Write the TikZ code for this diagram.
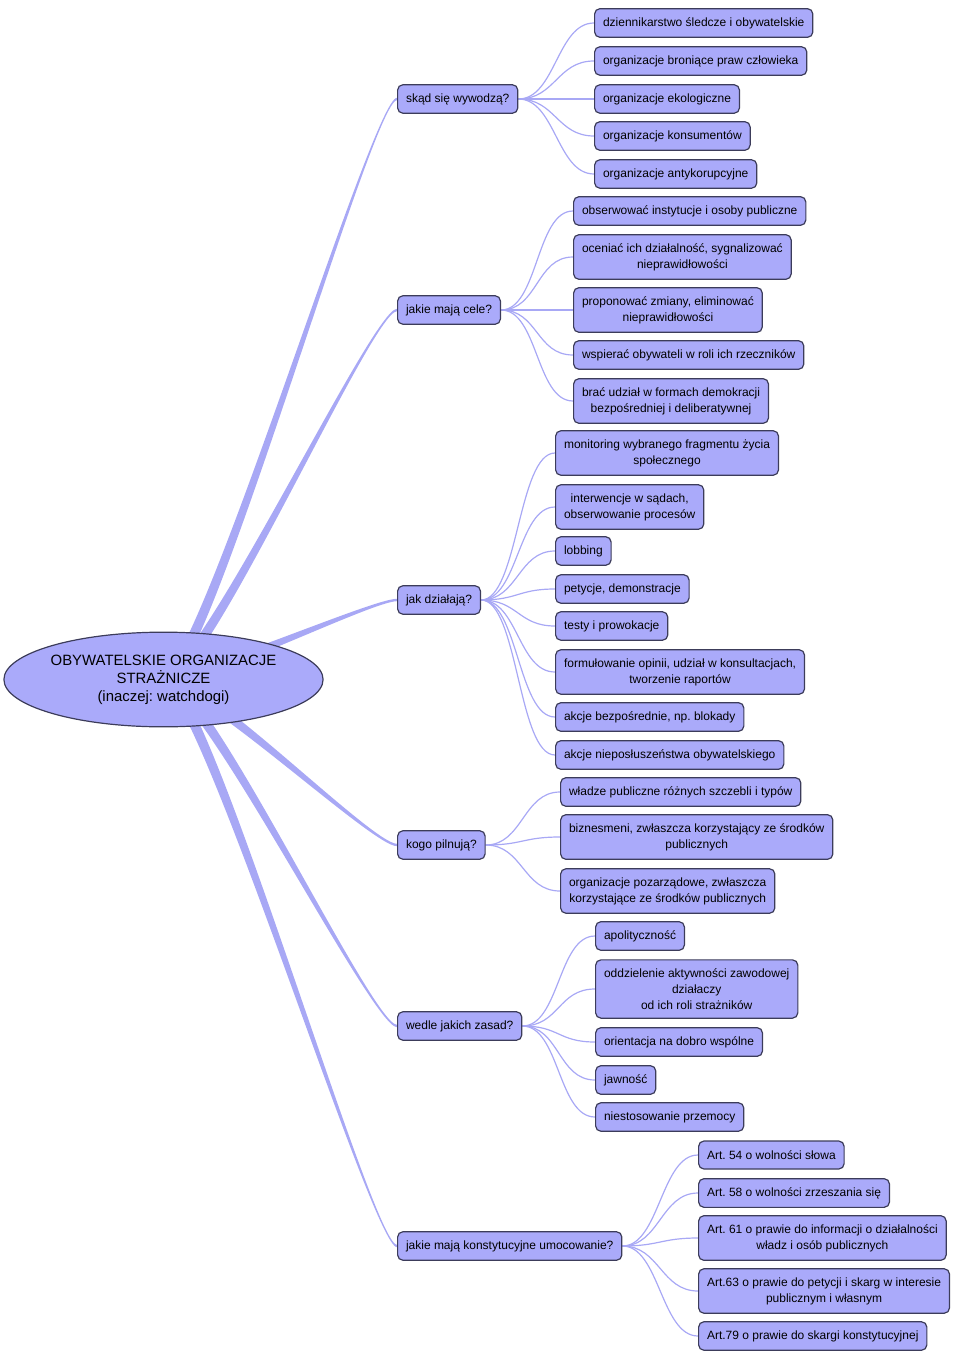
\documentclass[tikz,border=0pt]{standalone}
\usepackage{fontspec}
\setmainfont{Liberation Sans}
\frenchspacing
\usetikzlibrary{shapes.geometric,calc,backgrounds}
\definecolor{nodefill}{HTML}{AAAAFA}
\definecolor{nodeline}{HTML}{3C3C5A}
\definecolor{edgecol}{HTML}{A8A8F5}
\newcommand\mainedge[1]{%
  \path ($(root.center)!4pt!90:(#1.west)$) coordinate (mA)
        ($(root.center)!4pt!-90:(#1.west)$) coordinate (mB)
        ($(#1.west)+(0,-1.2)$) coordinate (mC)
        ($(#1.west)+(0,1.2)$) coordinate (mD);
  \fill[edgecol] (mA) .. controls +(40,0) and +(-25,0) .. (mC) -- (mD)
        .. controls +(-25,0) and +(40,0) .. (mB) -- cycle;}
\newcommand\leafedge[2]{\draw[leafline] (#1.east) .. controls +(37,0) and +(-37,0) .. (#2.west);}
\begin{document}
\begin{tikzpicture}[x=0.75pt,y=-0.75pt,
  box/.style={draw=nodeline, line width=0.9pt, fill=nodefill, rounded corners=4pt,
    anchor=west, align=center, font=\fontsize{9}{12}\selectfont,
    inner xsep=6.3pt, inner ysep=6.5pt, minimum height=21pt},
  leafline/.style={draw=edgecol, line width=0.9pt},
  rootnode/.style={ellipse, draw=nodeline, line width=0.9pt, fill=nodefill,
    minimum width=237pt, minimum height=71pt, align=center, inner sep=0pt,
    font=\fontsize{11.2}{13.5}\selectfont}]
\useasboundingbox (0,0) rectangle (960,1355);

\node[rootnode] (root) at (163.5,679.5) {OBYWATELSKIE ORGANIZACJE\\STRAŻNICZE\\(inaczej: watchdogi)};

% branches
\node[box] (b1) at (397,99) {skąd się wywodzą?};
\node[box] (b2) at (397,310) {jakie mają cele?};
\node[box] (b3) at (397,600) {jak działają?};
\node[box] (b4) at (397,845) {kogo pilnują?};
\node[box] (b5) at (397,1026) {wedle jakich zasad?};
\node[box] (b6) at (397,1246) {jakie mają konstytucyjne umocowanie?};

% group 1
\node[box] (l11) at (594,23) {dziennikarstwo śledcze i obywatelskie};
\node[box] (l12) at (594,61) {organizacje broniące praw człowieka};
\node[box] (l13) at (594,99) {organizacje ekologiczne};
\node[box] (l14) at (594,136) {organizacje konsumentów};
\node[box] (l15) at (594,174) {organizacje antykorupcyjne};

% group 2
\node[box] (l21) at (573,211) {obserwować instytucje i osoby publiczne};
\node[box] (l22) at (573,257) {oceniać ich działalność, sygnalizować\\nieprawidłowości};
\node[box] (l23) at (573,310) {proponować zmiany, eliminować\\nieprawidłowości};
\node[box] (l24) at (573,355) {wspierać obywateli w roli ich rzeczników};
\node[box] (l25) at (573,401) {brać udział w formach demokracji\\bezpośredniej i deliberatywnej};

% group 3
\node[box] (l31) at (555,453) {monitoring wybranego fragmentu życia\\społecznego};
\node[box] (l32) at (555,507) {interwencje w sądach,\\obserwowanie procesów};
\node[box] (l33) at (555,551) {lobbing};
\node[box] (l34) at (555,589) {petycje, demonstracje};
\node[box] (l35) at (555,626) {testy i prowokacje};
\node[box] (l36) at (555,672) {formułowanie opinii, udział w konsultacjach,\\tworzenie raportów};
\node[box] (l37) at (555,717) {akcje bezpośrednie, np. blokady};
\node[box] (l38) at (555,755) {akcje nieposłuszeństwa obywatelskiego};

% group 4
\node[box] (l41) at (560,792) {władze publiczne różnych szczebli i typów};
\node[box] (l42) at (560,837) {biznesmeni, zwłaszcza korzystający ze środków\\publicznych};
\node[box] (l43) at (560,891) {organizacje pozarządowe, zwłaszcza\\korzystające ze środków publicznych};

% group 5
\node[box] (l51) at (595,936) {apolityczność};
\node[box] (l52) at (595,989) {oddzielenie aktywności zawodowej\\działaczy\\od ich roli strażników};
\node[box] (l53) at (595,1042) {orientacja na dobro wspólne};
\node[box] (l54) at (595,1080) {jawność};
\node[box] (l55) at (595,1117) {niestosowanie przemocy};

% group 6
\node[box] (l61) at (698,1155) {Art. 54 o wolności słowa};
\node[box] (l62) at (698,1193) {Art. 58 o wolności zrzeszania się};
\node[box] (l63) at (698,1238) {Art. 61 o prawie do informacji o działalności\\władz i osób publicznych};
\node[box] (l64) at (698,1291) {Art.63 o prawie do petycji i skarg w interesie\\publicznym i własnym};
\node[box] (l65) at (698,1336) {Art.79 o prawie do skargi konstytucyjnej};

\begin{pgfonlayer}{background}
  \mainedge{b1}\mainedge{b2}\mainedge{b3}\mainedge{b4}\mainedge{b5}\mainedge{b6}
  \leafedge{b1}{l11}\leafedge{b1}{l12}\leafedge{b1}{l13}\leafedge{b1}{l14}\leafedge{b1}{l15}
  \leafedge{b2}{l21}\leafedge{b2}{l22}\leafedge{b2}{l23}\leafedge{b2}{l24}\leafedge{b2}{l25}
  \leafedge{b3}{l31}\leafedge{b3}{l32}\leafedge{b3}{l33}\leafedge{b3}{l34}
  \leafedge{b3}{l35}\leafedge{b3}{l36}\leafedge{b3}{l37}\leafedge{b3}{l38}
  \leafedge{b4}{l41}\leafedge{b4}{l42}\leafedge{b4}{l43}
  \leafedge{b5}{l51}\leafedge{b5}{l52}\leafedge{b5}{l53}\leafedge{b5}{l54}\leafedge{b5}{l55}
  \leafedge{b6}{l61}\leafedge{b6}{l62}\leafedge{b6}{l63}\leafedge{b6}{l64}\leafedge{b6}{l65}
\end{pgfonlayer}
\end{tikzpicture}
\end{document}
